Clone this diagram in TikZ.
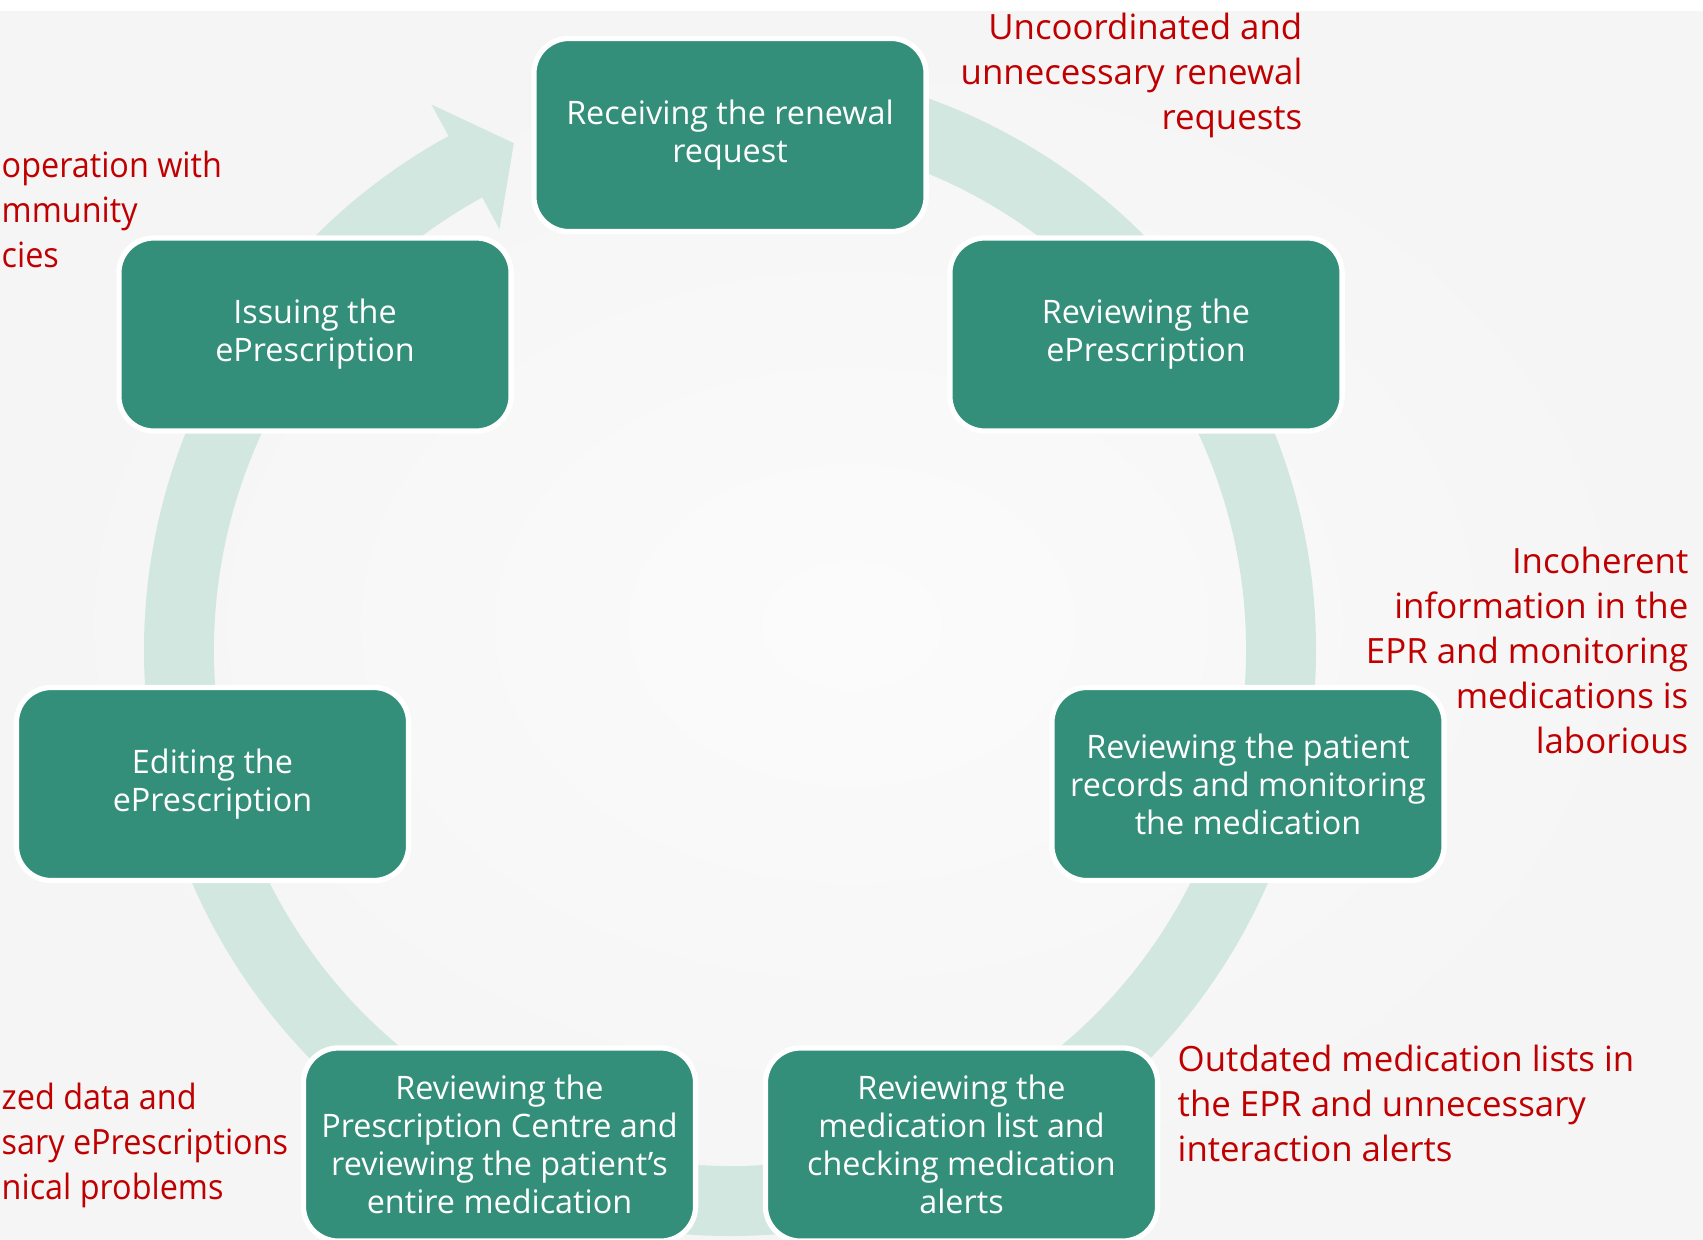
\documentclass[tikz,border=0pt]{standalone}
\usepackage{fontspec}
\setmainfont{Open Sans}
\newfontfamily\narrowfont[FakeStretch=0.93]{Open Sans}
\usepackage{tikz}
\definecolor{boxTeal}{RGB}{51,143,121}
\definecolor{ringMint}{RGB}{209,231,223}
\definecolor{noteRed}{RGB}{192,0,0}

\tikzset{
  stage/.style={draw=white, line width=1.5pt, fill=boxTeal, rounded corners=0.35cm,
    minimum width=3.92cm, minimum height=1.93cm, text=white, align=center,
    font=\fontsize{9.2}{10.8}\selectfont, inner sep=0pt},
  note/.style={text=noteRed, font=\fontsize{9.9}{12.8}\selectfont, inner sep=0pt},
  edgenote/.style={note, font=\narrowfont\fontsize{9.9}{12.8}\selectfont}
}

\begin{document}
\begin{tikzpicture}[x=0.01cm, y=-0.01cm]
        \useasboundingbox (0,0) rectangle (1703,1239);
        \fill[white] (0,0) rectangle (1703,1239);
        \shade[inner color=white!98.5!black, outer color=white!96!black] (0,11) rectangle (1703,1239);
        % Cycle arrow behind the stages
        \begin{scope}[shift={(730,650)}, y=0.01cm]
          \fill[ringMint] (90:586) arc[start angle=90, end angle=-241.3, radius=586]
            -- (-241.3:622) -- (-246.9:551) -- (-241.3:480) -- (-241.3:516)
            arc[start angle=-241.3, end angle=90, radius=516] -- cycle;
        \end{scope}
        % Stages
        \node[stage] (receive) at (730,135) {Receiving the renewal\\request};
        \node[stage] (reviewEP) at (1146,334.5) {Reviewing the\\ePrescription};
        \node[stage] (reviewRec) at (1248,784) {Reviewing the patient\\records and monitoring\\the medication};
        \node[stage] (reviewList) at (961.5,1144.5) {Reviewing the\\medication list and\\checking medication\\alerts};
        \node[stage] (reviewPC) at (499.5,1144.5) {Reviewing the\\Prescription Centre and\\reviewing the patient’s\\entire medication};
        \node[stage] (edit) at (212.5,784) {Editing the\\ePrescription};
        \node[stage] (issue) at (315,334.5) {Issuing the\\ePrescription};
        % Problems
        \node[note, anchor=north east, align=right] (noteRenewal) at (1303,12) {Uncoordinated and\\unnecessary renewal\\requests};
        \node[edgenote, anchor=north west, align=left] (notePharm) at (1,150) {operation with\\mmunity\\cies};
        \node[note, anchor=north east, align=right] (noteEPR) at (1689,546) {Incoherent\\information in the\\EPR and monitoring\\medications is\\laborious};
        \node[note, anchor=north west, align=left] (noteAlerts) at (1177,1044) {Outdated medication lists in\\the EPR and unnecessary\\interaction alerts};
        \node[edgenote, anchor=north west, align=left] (noteData) at (1,1082) {zed data and\\sary ePrescriptions\\nical problems};
\end{tikzpicture}
\end{document}
